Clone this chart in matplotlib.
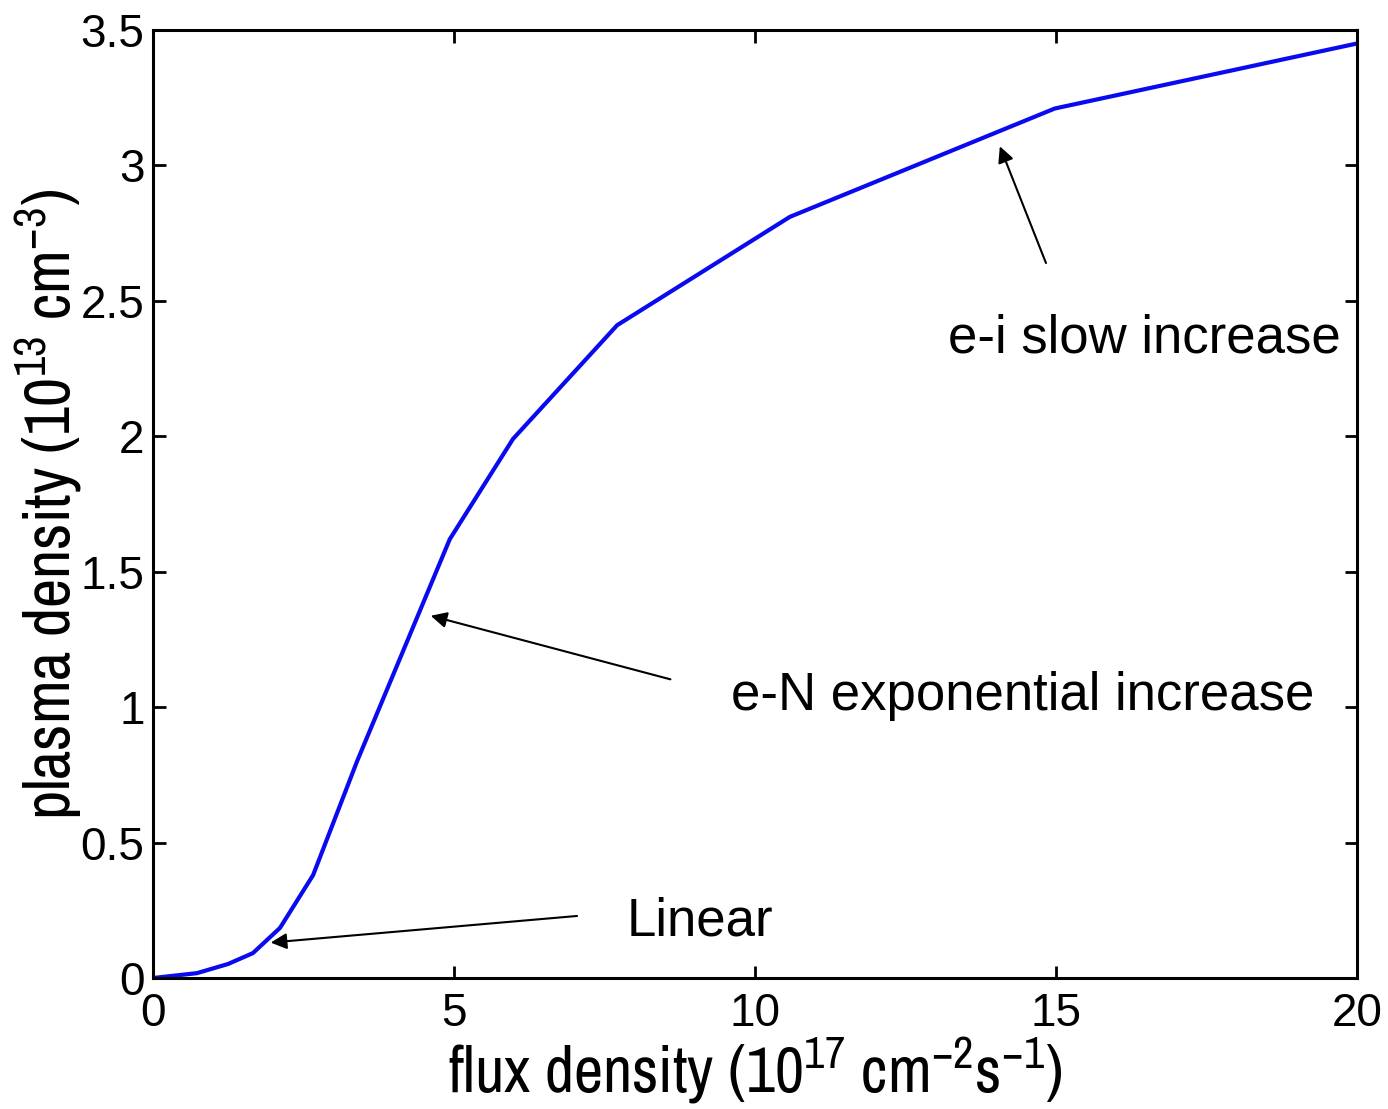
import matplotlib
matplotlib.use("Agg")
import matplotlib.pyplot as plt
from matplotlib import font_manager

flux = [0.0, 0.73, 1.25, 1.66, 2.11, 2.66, 3.39, 4.93, 5.98, 7.71, 10.58, 14.98, 20.0]
density = [0.0, 0.018, 0.052, 0.092, 0.185, 0.38, 0.80, 1.62, 1.99, 2.41, 2.81, 3.21, 3.45]

x_ticks = [0, 5, 10, 15, 20]
y_ticks = [0, 0.5, 1, 1.5, 2, 2.5, 3, 3.5]
y_tick_labels = ["0", "0.5", "1", "1.5", "2", "2.5", "3", "3.5"]

# narrow sans for the axis labels (MATLAB-style condensed look)
names = {f.name for f in font_manager.fontManager.ttflist}
narrow = "Liberation Sans"
for cand in ["Arial Narrow", "Liberation Sans Narrow", "Archivo Narrow",
             "Roboto Condensed", "IBM Plex Sans Condensed", "Fira Sans Condensed",
             "PT Sans Narrow", "Encode Sans Condensed"]:
    if cand in names:
        narrow = cand
        break

plt.rcParams["font.family"] = ["Liberation Sans", "DejaVu Sans"]

fig = plt.figure(figsize=(13.88, 11.09), dpi=100)
ax = fig.add_axes([0.1102, 0.1181, 0.8675, 0.8549])

ax.plot(flux, density, color="#0a0af0", linewidth=3.0)

ax.set_xlim(0, 20)
ax.set_ylim(0, 3.5)
ax.set_xticks(x_ticks)
ax.set_yticks(y_ticks)
ax.set_yticklabels(y_tick_labels)
ax.tick_params(direction="in", length=9, width=2, top=True, right=True,
               labelsize=33)
ax.tick_params(axis="x", pad=10)
ax.tick_params(axis="y", pad=6)
for s in ax.spines.values():
    s.set_linewidth(2.2)

ax.set_xlabel(r"flux density (10$\mathregular{^{17}}$ cm$\mathregular{^{-2}}$s$\mathregular{^{-1}}$)",
              fontsize=46, labelpad=0, fontfamily=narrow)
ax.set_ylabel(r"plasma density (10$\mathregular{^{13}}$ cm$\mathregular{^{-3}}$)",
              fontsize=46, labelpad=-2, fontfamily=narrow)

arrow = dict(arrowstyle="-|>", color="black", lw=1.5, mutation_scale=24)
ax.annotate("", xy=(1.91, 0.13), xytext=(7.09, 0.23), arrowprops=arrow)
ax.annotate("", xy=(4.57, 1.34), xytext=(8.64, 1.10), arrowprops=arrow)
ax.annotate("", xy=(14.05, 3.08), xytext=(14.85, 2.63), arrowprops=arrow)

ax.text(7.87, 0.207, "Linear", fontsize=38, va="center", ha="left")
ax.text(9.6, 1.04, "e-N exponential increase", fontsize=38, va="center", ha="left")
ax.text(13.2, 2.36, "e-i slow increase", fontsize=38, va="center", ha="left")

fig.savefig("out.png", dpi=100)
